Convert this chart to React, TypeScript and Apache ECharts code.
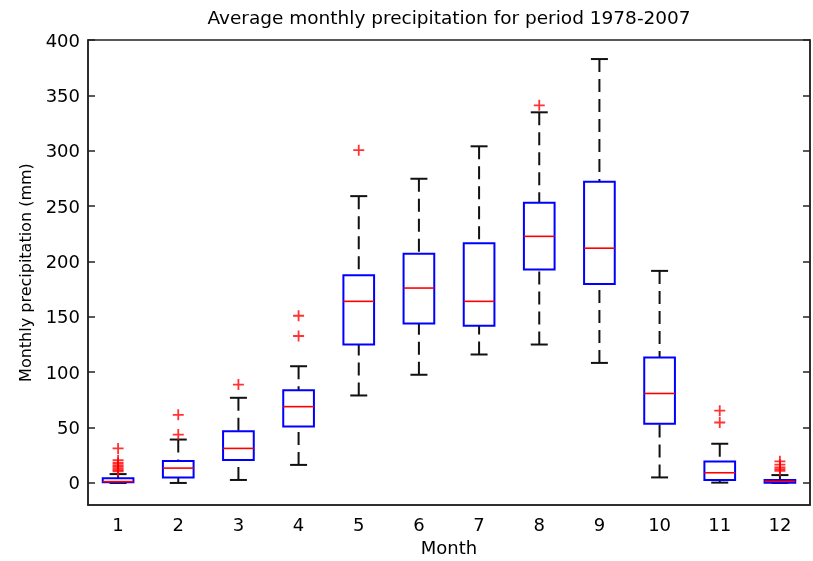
import React, { useEffect, useRef } from "react";
import * as echarts from "echarts";

const months = ["1", "2", "3", "4", "5", "6", "7", "8", "9", "10", "11", "12"];
const whiskerLow = [0, 0, 2.7, 16.3, 79, 97.7, 116, 125, 108.4, 5, 0.3, 0];
const quartile1 = [0.6, 5, 20.8, 51, 125, 144, 142, 192.7, 179.7, 53.5, 2.7, 0.2];
const medians = [1.2, 13.4, 31.2, 68.9, 164, 176, 164, 222.7, 212, 80.8, 9.2, 1.5];
const quartile3 = [4.2, 19.9, 46.8, 83.7, 187.5, 207, 216.5, 253, 272, 113.4, 19.3, 2.7];
const whiskerHigh = [8, 39.2, 76.9, 105.4, 259, 274.7, 304, 334.7, 382.8, 191.5, 35.4, 7.1];
const outliers: number[][] = [
  [31.2, 20.5, 18, 16, 14.5, 13, 11.5, 10.5],
  [61.5, 43.7],
  [88.8],
  [151, 132.7],
  [300.5],
  [],
  [],
  [341],
  [],
  [],
  [65.3, 54.6],
  [19.5, 16.5, 14, 12.5, 11],
];
const yTicks = [0, 50, 100, 150, 200, 250, 300, 350, 400];

const FONT = "DejaVu Sans";

export default function App() {
  const ref = useRef<HTMLDivElement>(null);
  useEffect(() => {
    if (!ref.current) return;
    const chart = echarts.init(ref.current, undefined, { renderer: "svg" });
    const boxData = months.map((_, i) => [
      i,
      whiskerLow[i],
      quartile1[i],
      medians[i],
      quartile3[i],
      whiskerHigh[i],
    ]);
    const outlierData: number[][] = [];
    outliers.forEach((arr, i) => arr.forEach((v) => outlierData.push([i, v])));

    const yAxisBase = {
      type: "value",
      min: -20,
      max: 400,
      splitLine: { show: false },
      axisLine: { show: true, onZero: false, lineStyle: { color: "#222", width: 1.5 } },
    };

    chart.setOption({
      animation: false,
      grid: {
        left: 88,
        right: 3,
        top: 40,
        bottom: 50,
        show: true,
        borderColor: "#222",
        borderWidth: 1.5,
        backgroundColor: "#fff",
      },
      graphic: [
        {
          type: "text",
          x: 449,
          y: 17,
          style: {
            text: "Average monthly precipitation for period 1978-2007",
            align: "center",
            verticalAlign: "middle",
            font: `18.5px "${FONT}"`,
            fill: "#000",
          },
        },
      ],
      xAxis: {
        type: "category",
        data: months,
        boundaryGap: true,
        name: "Month",
        nameLocation: "middle",
        nameGap: 30,
        nameTextStyle: { fontFamily: FONT, fontSize: 18, color: "#000" },
        axisLine: { show: true, onZero: false, lineStyle: { color: "#222", width: 1.5 } },
        axisTick: { show: false },
        axisLabel: { fontFamily: FONT, fontSize: 18, color: "#000", margin: 10 },
        splitLine: { show: false },
      },
      yAxis: [
        {
          ...yAxisBase,
          position: "left",
          name: "Monthly precipitation (mm)",
          nameLocation: "middle",
          nameGap: 55,
          nameTextStyle: { fontFamily: FONT, fontSize: 16, color: "#000" },
          axisTick: {
            show: true,
            inside: true,
            length: 7,
            lineStyle: { color: "#222", width: 1.5 },
            customValues: yTicks,
          },
          axisLabel: {
            fontFamily: FONT,
            fontSize: 18,
            color: "#000",
            margin: 8,
            customValues: yTicks,
          },
        },
        {
          ...yAxisBase,
          position: "right",
          axisTick: {
            show: true,
            inside: true,
            length: 7,
            lineStyle: { color: "#222", width: 1.5 },
            customValues: yTicks,
          },
          axisLabel: { show: false },
        },
      ],
      series: [
        {
          type: "custom",
          data: boxData,
          encode: { x: 0, y: [1, 2, 3, 4, 5] },
          renderItem: (params: any, api: any) => {
            const idx = api.value(0);
            const lo = api.coord([idx, api.value(1)]);
            const q1 = api.coord([idx, api.value(2)]);
            const md = api.coord([idx, api.value(3)]);
            const q3 = api.coord([idx, api.value(4)]);
            const hi = api.coord([idx, api.value(5)]);
            const bw = api.size([1, 0])[0] * 0.51;
            const cw = 17;
            const x = lo[0];
            const black = { stroke: "#111", lineWidth: 2 };
            return {
              type: "group",
              children: [
                {
                  type: "line",
                  shape: { x1: x, y1: hi[1], x2: x, y2: q3[1] },
                  style: { ...black, lineDash: [13, 7] },
                },
                {
                  type: "line",
                  shape: { x1: x, y1: lo[1], x2: x, y2: q1[1] },
                  style: { ...black, lineDash: [13, 7] },
                },
                {
                  type: "line",
                  shape: { x1: x - cw / 2, y1: hi[1], x2: x + cw / 2, y2: hi[1] },
                  style: black,
                },
                {
                  type: "line",
                  shape: { x1: x - cw / 2, y1: lo[1], x2: x + cw / 2, y2: lo[1] },
                  style: black,
                },
                {
                  type: "rect",
                  shape: { x: x - bw / 2, y: q3[1], width: bw, height: q1[1] - q3[1] },
                  style: { fill: "#fff", stroke: "#0000ff", lineWidth: 2 },
                },
                {
                  type: "line",
                  shape: { x1: x - bw / 2, y1: md[1], x2: x + bw / 2, y2: md[1] },
                  style: { stroke: "#ff0000", lineWidth: 1.6 },
                },
              ],
            };
          },
          z: 2,
        },
        {
          type: "scatter",
          data: outlierData,
          symbol: "path://M5 0V10M0 5H10",
          symbolSize: 11,
          itemStyle: { color: "none", borderColor: "#ff0000", borderWidth: 1.8 },
          z: 3,
        },
      ],
    });
    return () => chart.dispose();
  }, []);
  return (
    <div
      ref={ref}
      style={{ position: "fixed", left: 0, top: 0, width: 813, height: 561 }}
    />
  );
}
